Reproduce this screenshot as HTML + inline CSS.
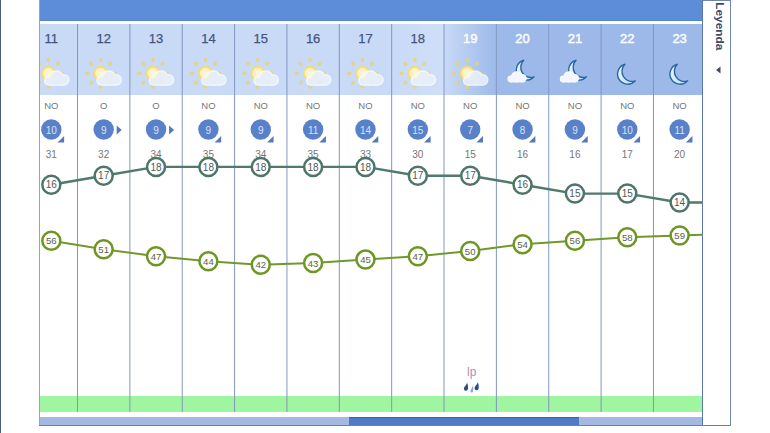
<!DOCTYPE html><html><head><meta charset="utf-8"><style>html,body{margin:0;padding:0;background:#fff;width:770px;height:433px;overflow:hidden}svg{display:block;font-family:"Liberation Sans", sans-serif}</style></head><body><svg width="770" height="433" viewBox="0 0 770 433"><defs><linearGradient id="g19" x1="0" x2="1" y1="0" y2="0"><stop offset="0" stop-color="#c8d9f6"/><stop offset="1" stop-color="#9dbaea"/></linearGradient><linearGradient id="g18" x1="0" x2="1" y1="0" y2="0"><stop offset="0" stop-color="#c9daf7"/><stop offset="1" stop-color="#d0dff8"/></linearGradient><radialGradient id="sunb" cx="0.5" cy="0.5" r="0.5"><stop offset="0" stop-color="#fdf8e0"/><stop offset="0.65" stop-color="#fbf0bc"/><stop offset="1" stop-color="#f1dc72"/></radialGradient><linearGradient id="moonf" x1="0" x2="1" y1="0" y2="1"><stop offset="0" stop-color="#f0fbff"/><stop offset="1" stop-color="#b4def8"/></linearGradient><filter id="soft" x="-20%" y="-20%" width="140%" height="140%"><feGaussianBlur stdDeviation="0.45"/></filter><clipPath id="chart"><rect x="40" y="0" width="662" height="433"/></clipPath></defs><rect x="0" y="0" width="1" height="433" fill="#4b5b7c"/><rect x="39" y="0" width="664" height="21" fill="#5d8cd9"/><rect x="39" y="20" width="664" height="1" fill="#5784cf"/><rect x="40" y="24" width="351.66" height="71" fill="#c9daf7"/><rect x="391.66" y="24" width="52.36" height="71" fill="url(#g18)"/><rect x="444.02" y="24" width="52.36" height="71" fill="url(#g19)"/><rect x="496.38" y="24" width="205.62" height="71" fill="#9db9ea"/><rect x="40" y="396" width="662" height="16" fill="#a0f5a0"/><rect x="40" y="417" width="662" height="8" fill="#a3b9e1"/><rect x="349" y="417" width="230" height="8" fill="#4f7bc6"/><rect x="349" y="417" width="230" height="1" fill="#3e64a8"/><rect x="77.00" y="24" width="1" height="388" fill="#8197c0"/><rect x="129.36" y="24" width="1" height="388" fill="#8197c0"/><rect x="181.72" y="24" width="1" height="388" fill="#8197c0"/><rect x="234.08" y="24" width="1" height="388" fill="#8197c0"/><rect x="286.44" y="24" width="1" height="388" fill="#8197c0"/><rect x="338.80" y="24" width="1" height="388" fill="#8197c0"/><rect x="391.16" y="24" width="1" height="388" fill="#8197c0"/><rect x="443.52" y="24" width="1" height="388" fill="#8197c0"/><rect x="495.88" y="24" width="1" height="388" fill="#8197c0"/><rect x="548.24" y="24" width="1" height="388" fill="#8197c0"/><rect x="600.60" y="24" width="1" height="388" fill="#8197c0"/><rect x="652.96" y="24" width="1" height="388" fill="#8197c0"/><rect x="39" y="0" width="1" height="426" fill="#8ea4c9"/><rect x="702" y="0" width="1" height="426" fill="#5a76a6"/><rect x="39" y="425" width="692" height="1" fill="#6a7fa5"/><rect x="730" y="0" width="1" height="426" fill="#6f86b0"/><rect x="703" y="0" width="27" height="1" fill="#6f86b0"/><text x="0" y="0" transform="translate(715.5,2.3) rotate(90)" font-family="Liberation Sans, sans-serif" font-weight="bold" font-size="11" fill="#3b4b6d" textLength="48" lengthAdjust="spacingAndGlyphs">Leyenda</text><path d="M716 70 L720.5 66.5 L720.5 73.5 Z" fill="#3b4b6d"/><g clip-path="url(#chart)"><text x="51.32" y="43" text-anchor="middle" font-family="Liberation Sans, sans-serif" font-size="13" fill="#43567a" stroke="#43567a" stroke-width="0.25">11</text><g filter="url(#soft)"><ellipse cx="48.32" cy="59.90" rx="1.9" ry="2.3" transform="rotate(0 48.32 59.90)" fill="#e8d36a" opacity="0.7"/><ellipse cx="57.80" cy="63.82" rx="1.9" ry="2.3" transform="rotate(45 57.80 63.82)" fill="#e8d36a" opacity="0.7"/><ellipse cx="61.72" cy="73.30" rx="1.9" ry="2.3" transform="rotate(90 61.72 73.30)" fill="#e8d36a" opacity="0.7"/><ellipse cx="57.80" cy="82.78" rx="1.9" ry="2.3" transform="rotate(135 57.80 82.78)" fill="#e8d36a" opacity="0.7"/><ellipse cx="48.32" cy="86.70" rx="1.9" ry="2.3" transform="rotate(180 48.32 86.70)" fill="#e8d36a" opacity="0.7"/><ellipse cx="38.84" cy="82.78" rx="1.9" ry="2.3" transform="rotate(225 38.84 82.78)" fill="#e8d36a" opacity="0.7"/><ellipse cx="34.92" cy="73.30" rx="1.9" ry="2.3" transform="rotate(270 34.92 73.30)" fill="#e8d36a" opacity="0.7"/><ellipse cx="38.84" cy="63.82" rx="1.9" ry="2.3" transform="rotate(315 38.84 63.82)" fill="#e8d36a" opacity="0.7"/><circle cx="48.32" cy="73.3" r="7.2" fill="url(#sunb)"/><circle cx="48.32" cy="73.3" r="6.5" fill="none" stroke="#f2dc78" stroke-width="1.4" opacity="0.9"/><g opacity="0.85"><circle cx="48.92" cy="80.80" r="4.90" fill="#fbfdff"/><circle cx="56.32" cy="78.00" r="7.70" fill="#fbfdff"/><circle cx="63.72" cy="79.80" r="5.90" fill="#fbfdff"/><rect x="48.92" y="78.90" width="14.80" height="6.80" fill="#fbfdff"/><circle cx="48.92" cy="80.80" r="3.60" fill="#eaf1fb"/><circle cx="56.32" cy="78.00" r="6.40" fill="#eaf1fb"/><circle cx="63.72" cy="79.80" r="4.60" fill="#eaf1fb"/><rect x="48.92" y="78.90" width="14.80" height="5.50" fill="#eaf1fb"/></g></g><text x="51.32" y="108.8" text-anchor="middle" font-family="Liberation Sans, sans-serif" font-size="9.5" fill="#767676">NO</text><circle cx="51.32" cy="129.5" r="10.2" fill="#5881ca"/><text x="51.32" y="133.6" text-anchor="middle" font-family="Liberation Sans, sans-serif" font-size="10" fill="#d8e1f2">10</text><path d="M64.12 136 L64.12 142.4 L57.52 142.4 Z" fill="#5479bf"/><text x="51.32" y="158" text-anchor="middle" font-family="Liberation Sans, sans-serif" font-size="10" fill="#767676">31</text><text x="103.68" y="43" text-anchor="middle" font-family="Liberation Sans, sans-serif" font-size="13" fill="#43567a" stroke="#43567a" stroke-width="0.25">12</text><g filter="url(#soft)"><ellipse cx="100.68" cy="59.90" rx="1.9" ry="2.3" transform="rotate(0 100.68 59.90)" fill="#e8d36a" opacity="0.7"/><ellipse cx="110.16" cy="63.82" rx="1.9" ry="2.3" transform="rotate(45 110.16 63.82)" fill="#e8d36a" opacity="0.7"/><ellipse cx="114.08" cy="73.30" rx="1.9" ry="2.3" transform="rotate(90 114.08 73.30)" fill="#e8d36a" opacity="0.7"/><ellipse cx="110.16" cy="82.78" rx="1.9" ry="2.3" transform="rotate(135 110.16 82.78)" fill="#e8d36a" opacity="0.7"/><ellipse cx="100.68" cy="86.70" rx="1.9" ry="2.3" transform="rotate(180 100.68 86.70)" fill="#e8d36a" opacity="0.7"/><ellipse cx="91.20" cy="82.78" rx="1.9" ry="2.3" transform="rotate(225 91.20 82.78)" fill="#e8d36a" opacity="0.7"/><ellipse cx="87.28" cy="73.30" rx="1.9" ry="2.3" transform="rotate(270 87.28 73.30)" fill="#e8d36a" opacity="0.7"/><ellipse cx="91.20" cy="63.82" rx="1.9" ry="2.3" transform="rotate(315 91.20 63.82)" fill="#e8d36a" opacity="0.7"/><circle cx="100.68" cy="73.3" r="7.2" fill="url(#sunb)"/><circle cx="100.68" cy="73.3" r="6.5" fill="none" stroke="#f2dc78" stroke-width="1.4" opacity="0.9"/><g opacity="0.85"><circle cx="101.28" cy="80.80" r="4.90" fill="#fbfdff"/><circle cx="108.68" cy="78.00" r="7.70" fill="#fbfdff"/><circle cx="116.08" cy="79.80" r="5.90" fill="#fbfdff"/><rect x="101.28" y="78.90" width="14.80" height="6.80" fill="#fbfdff"/><circle cx="101.28" cy="80.80" r="3.60" fill="#eaf1fb"/><circle cx="108.68" cy="78.00" r="6.40" fill="#eaf1fb"/><circle cx="116.08" cy="79.80" r="4.60" fill="#eaf1fb"/><rect x="101.28" y="78.90" width="14.80" height="5.50" fill="#eaf1fb"/></g></g><text x="103.68" y="108.8" text-anchor="middle" font-family="Liberation Sans, sans-serif" font-size="9.5" fill="#767676">O</text><circle cx="103.68" cy="129.5" r="10.2" fill="#5881ca"/><text x="103.68" y="133.6" text-anchor="middle" font-family="Liberation Sans, sans-serif" font-size="10" fill="#d8e1f2">9</text><path d="M116.68 125.5 L121.68 130 L116.68 134.5 Z" fill="#5479bf"/><text x="103.68" y="158" text-anchor="middle" font-family="Liberation Sans, sans-serif" font-size="10" fill="#767676">32</text><text x="156.04" y="43" text-anchor="middle" font-family="Liberation Sans, sans-serif" font-size="13" fill="#43567a" stroke="#43567a" stroke-width="0.25">13</text><g filter="url(#soft)"><ellipse cx="153.04" cy="59.90" rx="1.9" ry="2.3" transform="rotate(0 153.04 59.90)" fill="#e8d36a" opacity="0.7"/><ellipse cx="162.52" cy="63.82" rx="1.9" ry="2.3" transform="rotate(45 162.52 63.82)" fill="#e8d36a" opacity="0.7"/><ellipse cx="166.44" cy="73.30" rx="1.9" ry="2.3" transform="rotate(90 166.44 73.30)" fill="#e8d36a" opacity="0.7"/><ellipse cx="162.52" cy="82.78" rx="1.9" ry="2.3" transform="rotate(135 162.52 82.78)" fill="#e8d36a" opacity="0.7"/><ellipse cx="153.04" cy="86.70" rx="1.9" ry="2.3" transform="rotate(180 153.04 86.70)" fill="#e8d36a" opacity="0.7"/><ellipse cx="143.56" cy="82.78" rx="1.9" ry="2.3" transform="rotate(225 143.56 82.78)" fill="#e8d36a" opacity="0.7"/><ellipse cx="139.64" cy="73.30" rx="1.9" ry="2.3" transform="rotate(270 139.64 73.30)" fill="#e8d36a" opacity="0.7"/><ellipse cx="143.56" cy="63.82" rx="1.9" ry="2.3" transform="rotate(315 143.56 63.82)" fill="#e8d36a" opacity="0.7"/><circle cx="153.04" cy="73.3" r="7.2" fill="url(#sunb)"/><circle cx="153.04" cy="73.3" r="6.5" fill="none" stroke="#f2dc78" stroke-width="1.4" opacity="0.9"/><g opacity="0.85"><circle cx="153.64" cy="80.80" r="4.90" fill="#fbfdff"/><circle cx="161.04" cy="78.00" r="7.70" fill="#fbfdff"/><circle cx="168.44" cy="79.80" r="5.90" fill="#fbfdff"/><rect x="153.64" y="78.90" width="14.80" height="6.80" fill="#fbfdff"/><circle cx="153.64" cy="80.80" r="3.60" fill="#eaf1fb"/><circle cx="161.04" cy="78.00" r="6.40" fill="#eaf1fb"/><circle cx="168.44" cy="79.80" r="4.60" fill="#eaf1fb"/><rect x="153.64" y="78.90" width="14.80" height="5.50" fill="#eaf1fb"/></g></g><text x="156.04" y="108.8" text-anchor="middle" font-family="Liberation Sans, sans-serif" font-size="9.5" fill="#767676">O</text><circle cx="156.04" cy="129.5" r="10.2" fill="#5881ca"/><text x="156.04" y="133.6" text-anchor="middle" font-family="Liberation Sans, sans-serif" font-size="10" fill="#d8e1f2">9</text><path d="M169.04 125.5 L174.04 130 L169.04 134.5 Z" fill="#5479bf"/><text x="156.04" y="158" text-anchor="middle" font-family="Liberation Sans, sans-serif" font-size="10" fill="#767676">34</text><text x="208.40" y="43" text-anchor="middle" font-family="Liberation Sans, sans-serif" font-size="13" fill="#43567a" stroke="#43567a" stroke-width="0.25">14</text><g filter="url(#soft)"><ellipse cx="205.40" cy="59.90" rx="1.9" ry="2.3" transform="rotate(0 205.40 59.90)" fill="#e8d36a" opacity="0.7"/><ellipse cx="214.88" cy="63.82" rx="1.9" ry="2.3" transform="rotate(45 214.88 63.82)" fill="#e8d36a" opacity="0.7"/><ellipse cx="218.80" cy="73.30" rx="1.9" ry="2.3" transform="rotate(90 218.80 73.30)" fill="#e8d36a" opacity="0.7"/><ellipse cx="214.88" cy="82.78" rx="1.9" ry="2.3" transform="rotate(135 214.88 82.78)" fill="#e8d36a" opacity="0.7"/><ellipse cx="205.40" cy="86.70" rx="1.9" ry="2.3" transform="rotate(180 205.40 86.70)" fill="#e8d36a" opacity="0.7"/><ellipse cx="195.92" cy="82.78" rx="1.9" ry="2.3" transform="rotate(225 195.92 82.78)" fill="#e8d36a" opacity="0.7"/><ellipse cx="192.00" cy="73.30" rx="1.9" ry="2.3" transform="rotate(270 192.00 73.30)" fill="#e8d36a" opacity="0.7"/><ellipse cx="195.92" cy="63.82" rx="1.9" ry="2.3" transform="rotate(315 195.92 63.82)" fill="#e8d36a" opacity="0.7"/><circle cx="205.39999999999998" cy="73.3" r="7.2" fill="url(#sunb)"/><circle cx="205.39999999999998" cy="73.3" r="6.5" fill="none" stroke="#f2dc78" stroke-width="1.4" opacity="0.9"/><g opacity="0.85"><circle cx="206.00" cy="80.80" r="4.90" fill="#fbfdff"/><circle cx="213.40" cy="78.00" r="7.70" fill="#fbfdff"/><circle cx="220.80" cy="79.80" r="5.90" fill="#fbfdff"/><rect x="206.00" y="78.90" width="14.80" height="6.80" fill="#fbfdff"/><circle cx="206.00" cy="80.80" r="3.60" fill="#eaf1fb"/><circle cx="213.40" cy="78.00" r="6.40" fill="#eaf1fb"/><circle cx="220.80" cy="79.80" r="4.60" fill="#eaf1fb"/><rect x="206.00" y="78.90" width="14.80" height="5.50" fill="#eaf1fb"/></g></g><text x="208.40" y="108.8" text-anchor="middle" font-family="Liberation Sans, sans-serif" font-size="9.5" fill="#767676">NO</text><circle cx="208.40" cy="129.5" r="10.2" fill="#5881ca"/><text x="208.40" y="133.6" text-anchor="middle" font-family="Liberation Sans, sans-serif" font-size="10" fill="#d8e1f2">9</text><path d="M221.20 136 L221.20 142.4 L214.60 142.4 Z" fill="#5479bf"/><text x="208.40" y="158" text-anchor="middle" font-family="Liberation Sans, sans-serif" font-size="10" fill="#767676">35</text><text x="260.76" y="43" text-anchor="middle" font-family="Liberation Sans, sans-serif" font-size="13" fill="#43567a" stroke="#43567a" stroke-width="0.25">15</text><g filter="url(#soft)"><ellipse cx="257.76" cy="59.90" rx="1.9" ry="2.3" transform="rotate(0 257.76 59.90)" fill="#e8d36a" opacity="0.7"/><ellipse cx="267.24" cy="63.82" rx="1.9" ry="2.3" transform="rotate(45 267.24 63.82)" fill="#e8d36a" opacity="0.7"/><ellipse cx="271.16" cy="73.30" rx="1.9" ry="2.3" transform="rotate(90 271.16 73.30)" fill="#e8d36a" opacity="0.7"/><ellipse cx="267.24" cy="82.78" rx="1.9" ry="2.3" transform="rotate(135 267.24 82.78)" fill="#e8d36a" opacity="0.7"/><ellipse cx="257.76" cy="86.70" rx="1.9" ry="2.3" transform="rotate(180 257.76 86.70)" fill="#e8d36a" opacity="0.7"/><ellipse cx="248.28" cy="82.78" rx="1.9" ry="2.3" transform="rotate(225 248.28 82.78)" fill="#e8d36a" opacity="0.7"/><ellipse cx="244.36" cy="73.30" rx="1.9" ry="2.3" transform="rotate(270 244.36 73.30)" fill="#e8d36a" opacity="0.7"/><ellipse cx="248.28" cy="63.82" rx="1.9" ry="2.3" transform="rotate(315 248.28 63.82)" fill="#e8d36a" opacity="0.7"/><circle cx="257.76" cy="73.3" r="7.2" fill="url(#sunb)"/><circle cx="257.76" cy="73.3" r="6.5" fill="none" stroke="#f2dc78" stroke-width="1.4" opacity="0.9"/><g opacity="0.85"><circle cx="258.36" cy="80.80" r="4.90" fill="#fbfdff"/><circle cx="265.76" cy="78.00" r="7.70" fill="#fbfdff"/><circle cx="273.16" cy="79.80" r="5.90" fill="#fbfdff"/><rect x="258.36" y="78.90" width="14.80" height="6.80" fill="#fbfdff"/><circle cx="258.36" cy="80.80" r="3.60" fill="#eaf1fb"/><circle cx="265.76" cy="78.00" r="6.40" fill="#eaf1fb"/><circle cx="273.16" cy="79.80" r="4.60" fill="#eaf1fb"/><rect x="258.36" y="78.90" width="14.80" height="5.50" fill="#eaf1fb"/></g></g><text x="260.76" y="108.8" text-anchor="middle" font-family="Liberation Sans, sans-serif" font-size="9.5" fill="#767676">NO</text><circle cx="260.76" cy="129.5" r="10.2" fill="#5881ca"/><text x="260.76" y="133.6" text-anchor="middle" font-family="Liberation Sans, sans-serif" font-size="10" fill="#d8e1f2">9</text><path d="M273.56 136 L273.56 142.4 L266.96 142.4 Z" fill="#5479bf"/><text x="260.76" y="158" text-anchor="middle" font-family="Liberation Sans, sans-serif" font-size="10" fill="#767676">34</text><text x="313.12" y="43" text-anchor="middle" font-family="Liberation Sans, sans-serif" font-size="13" fill="#43567a" stroke="#43567a" stroke-width="0.25">16</text><g filter="url(#soft)"><ellipse cx="310.12" cy="59.90" rx="1.9" ry="2.3" transform="rotate(0 310.12 59.90)" fill="#e8d36a" opacity="0.7"/><ellipse cx="319.60" cy="63.82" rx="1.9" ry="2.3" transform="rotate(45 319.60 63.82)" fill="#e8d36a" opacity="0.7"/><ellipse cx="323.52" cy="73.30" rx="1.9" ry="2.3" transform="rotate(90 323.52 73.30)" fill="#e8d36a" opacity="0.7"/><ellipse cx="319.60" cy="82.78" rx="1.9" ry="2.3" transform="rotate(135 319.60 82.78)" fill="#e8d36a" opacity="0.7"/><ellipse cx="310.12" cy="86.70" rx="1.9" ry="2.3" transform="rotate(180 310.12 86.70)" fill="#e8d36a" opacity="0.7"/><ellipse cx="300.64" cy="82.78" rx="1.9" ry="2.3" transform="rotate(225 300.64 82.78)" fill="#e8d36a" opacity="0.7"/><ellipse cx="296.72" cy="73.30" rx="1.9" ry="2.3" transform="rotate(270 296.72 73.30)" fill="#e8d36a" opacity="0.7"/><ellipse cx="300.64" cy="63.82" rx="1.9" ry="2.3" transform="rotate(315 300.64 63.82)" fill="#e8d36a" opacity="0.7"/><circle cx="310.12" cy="73.3" r="7.2" fill="url(#sunb)"/><circle cx="310.12" cy="73.3" r="6.5" fill="none" stroke="#f2dc78" stroke-width="1.4" opacity="0.9"/><g opacity="0.85"><circle cx="310.72" cy="80.80" r="4.90" fill="#fbfdff"/><circle cx="318.12" cy="78.00" r="7.70" fill="#fbfdff"/><circle cx="325.52" cy="79.80" r="5.90" fill="#fbfdff"/><rect x="310.72" y="78.90" width="14.80" height="6.80" fill="#fbfdff"/><circle cx="310.72" cy="80.80" r="3.60" fill="#eaf1fb"/><circle cx="318.12" cy="78.00" r="6.40" fill="#eaf1fb"/><circle cx="325.52" cy="79.80" r="4.60" fill="#eaf1fb"/><rect x="310.72" y="78.90" width="14.80" height="5.50" fill="#eaf1fb"/></g></g><text x="313.12" y="108.8" text-anchor="middle" font-family="Liberation Sans, sans-serif" font-size="9.5" fill="#767676">NO</text><circle cx="313.12" cy="129.5" r="10.2" fill="#5881ca"/><text x="313.12" y="133.6" text-anchor="middle" font-family="Liberation Sans, sans-serif" font-size="10" fill="#d8e1f2">11</text><path d="M325.92 136 L325.92 142.4 L319.32 142.4 Z" fill="#5479bf"/><text x="313.12" y="158" text-anchor="middle" font-family="Liberation Sans, sans-serif" font-size="10" fill="#767676">35</text><text x="365.48" y="43" text-anchor="middle" font-family="Liberation Sans, sans-serif" font-size="13" fill="#43567a" stroke="#43567a" stroke-width="0.25">17</text><g filter="url(#soft)"><ellipse cx="362.48" cy="59.90" rx="1.9" ry="2.3" transform="rotate(0 362.48 59.90)" fill="#e8d36a" opacity="0.7"/><ellipse cx="371.96" cy="63.82" rx="1.9" ry="2.3" transform="rotate(45 371.96 63.82)" fill="#e8d36a" opacity="0.7"/><ellipse cx="375.88" cy="73.30" rx="1.9" ry="2.3" transform="rotate(90 375.88 73.30)" fill="#e8d36a" opacity="0.7"/><ellipse cx="371.96" cy="82.78" rx="1.9" ry="2.3" transform="rotate(135 371.96 82.78)" fill="#e8d36a" opacity="0.7"/><ellipse cx="362.48" cy="86.70" rx="1.9" ry="2.3" transform="rotate(180 362.48 86.70)" fill="#e8d36a" opacity="0.7"/><ellipse cx="353.00" cy="82.78" rx="1.9" ry="2.3" transform="rotate(225 353.00 82.78)" fill="#e8d36a" opacity="0.7"/><ellipse cx="349.08" cy="73.30" rx="1.9" ry="2.3" transform="rotate(270 349.08 73.30)" fill="#e8d36a" opacity="0.7"/><ellipse cx="353.00" cy="63.82" rx="1.9" ry="2.3" transform="rotate(315 353.00 63.82)" fill="#e8d36a" opacity="0.7"/><circle cx="362.47999999999996" cy="73.3" r="7.2" fill="url(#sunb)"/><circle cx="362.47999999999996" cy="73.3" r="6.5" fill="none" stroke="#f2dc78" stroke-width="1.4" opacity="0.9"/><g opacity="0.85"><circle cx="363.08" cy="80.80" r="4.90" fill="#fbfdff"/><circle cx="370.48" cy="78.00" r="7.70" fill="#fbfdff"/><circle cx="377.88" cy="79.80" r="5.90" fill="#fbfdff"/><rect x="363.08" y="78.90" width="14.80" height="6.80" fill="#fbfdff"/><circle cx="363.08" cy="80.80" r="3.60" fill="#eaf1fb"/><circle cx="370.48" cy="78.00" r="6.40" fill="#eaf1fb"/><circle cx="377.88" cy="79.80" r="4.60" fill="#eaf1fb"/><rect x="363.08" y="78.90" width="14.80" height="5.50" fill="#eaf1fb"/></g></g><text x="365.48" y="108.8" text-anchor="middle" font-family="Liberation Sans, sans-serif" font-size="9.5" fill="#767676">NO</text><circle cx="365.48" cy="129.5" r="10.2" fill="#5881ca"/><text x="365.48" y="133.6" text-anchor="middle" font-family="Liberation Sans, sans-serif" font-size="10" fill="#d8e1f2">14</text><path d="M378.28 136 L378.28 142.4 L371.68 142.4 Z" fill="#5479bf"/><text x="365.48" y="158" text-anchor="middle" font-family="Liberation Sans, sans-serif" font-size="10" fill="#767676">33</text><text x="417.84" y="43" text-anchor="middle" font-family="Liberation Sans, sans-serif" font-size="13" fill="#43567a" stroke="#43567a" stroke-width="0.25">18</text><g filter="url(#soft)"><ellipse cx="414.84" cy="59.90" rx="1.9" ry="2.3" transform="rotate(0 414.84 59.90)" fill="#e8d36a" opacity="0.7"/><ellipse cx="424.32" cy="63.82" rx="1.9" ry="2.3" transform="rotate(45 424.32 63.82)" fill="#e8d36a" opacity="0.7"/><ellipse cx="428.24" cy="73.30" rx="1.9" ry="2.3" transform="rotate(90 428.24 73.30)" fill="#e8d36a" opacity="0.7"/><ellipse cx="424.32" cy="82.78" rx="1.9" ry="2.3" transform="rotate(135 424.32 82.78)" fill="#e8d36a" opacity="0.7"/><ellipse cx="414.84" cy="86.70" rx="1.9" ry="2.3" transform="rotate(180 414.84 86.70)" fill="#e8d36a" opacity="0.7"/><ellipse cx="405.36" cy="82.78" rx="1.9" ry="2.3" transform="rotate(225 405.36 82.78)" fill="#e8d36a" opacity="0.7"/><ellipse cx="401.44" cy="73.30" rx="1.9" ry="2.3" transform="rotate(270 401.44 73.30)" fill="#e8d36a" opacity="0.7"/><ellipse cx="405.36" cy="63.82" rx="1.9" ry="2.3" transform="rotate(315 405.36 63.82)" fill="#e8d36a" opacity="0.7"/><circle cx="414.84" cy="73.3" r="7.2" fill="url(#sunb)"/><circle cx="414.84" cy="73.3" r="6.5" fill="none" stroke="#f2dc78" stroke-width="1.4" opacity="0.9"/><g opacity="0.85"><circle cx="415.44" cy="80.80" r="4.90" fill="#fbfdff"/><circle cx="422.84" cy="78.00" r="7.70" fill="#fbfdff"/><circle cx="430.24" cy="79.80" r="5.90" fill="#fbfdff"/><rect x="415.44" y="78.90" width="14.80" height="6.80" fill="#fbfdff"/><circle cx="415.44" cy="80.80" r="3.60" fill="#eaf1fb"/><circle cx="422.84" cy="78.00" r="6.40" fill="#eaf1fb"/><circle cx="430.24" cy="79.80" r="4.60" fill="#eaf1fb"/><rect x="415.44" y="78.90" width="14.80" height="5.50" fill="#eaf1fb"/></g></g><text x="417.84" y="108.8" text-anchor="middle" font-family="Liberation Sans, sans-serif" font-size="9.5" fill="#767676">NO</text><circle cx="417.84" cy="129.5" r="10.2" fill="#5881ca"/><text x="417.84" y="133.6" text-anchor="middle" font-family="Liberation Sans, sans-serif" font-size="10" fill="#d8e1f2">15</text><path d="M430.64 136 L430.64 142.4 L424.04 142.4 Z" fill="#5479bf"/><text x="417.84" y="158" text-anchor="middle" font-family="Liberation Sans, sans-serif" font-size="10" fill="#767676">30</text><text x="470.20" y="43" text-anchor="middle" font-family="Liberation Sans, sans-serif" font-size="13" fill="#ffffff" stroke="#ffffff" stroke-width="0.4">19</text><g filter="url(#soft)"><ellipse cx="467.20" cy="59.90" rx="1.9" ry="2.3" transform="rotate(0 467.20 59.90)" fill="#e8d36a" opacity="0.7"/><ellipse cx="476.68" cy="63.82" rx="1.9" ry="2.3" transform="rotate(45 476.68 63.82)" fill="#e8d36a" opacity="0.7"/><ellipse cx="480.60" cy="73.30" rx="1.9" ry="2.3" transform="rotate(90 480.60 73.30)" fill="#e8d36a" opacity="0.7"/><ellipse cx="476.68" cy="82.78" rx="1.9" ry="2.3" transform="rotate(135 476.68 82.78)" fill="#e8d36a" opacity="0.7"/><ellipse cx="467.20" cy="86.70" rx="1.9" ry="2.3" transform="rotate(180 467.20 86.70)" fill="#e8d36a" opacity="0.7"/><ellipse cx="457.72" cy="82.78" rx="1.9" ry="2.3" transform="rotate(225 457.72 82.78)" fill="#e8d36a" opacity="0.7"/><ellipse cx="453.80" cy="73.30" rx="1.9" ry="2.3" transform="rotate(270 453.80 73.30)" fill="#e8d36a" opacity="0.7"/><ellipse cx="457.72" cy="63.82" rx="1.9" ry="2.3" transform="rotate(315 457.72 63.82)" fill="#e8d36a" opacity="0.7"/><circle cx="467.2" cy="73.3" r="7.2" fill="url(#sunb)"/><circle cx="467.2" cy="73.3" r="6.5" fill="none" stroke="#f2dc78" stroke-width="1.4" opacity="0.9"/><g opacity="0.85"><circle cx="467.80" cy="80.80" r="4.90" fill="#fbfdff"/><circle cx="475.20" cy="78.00" r="7.70" fill="#fbfdff"/><circle cx="482.60" cy="79.80" r="5.90" fill="#fbfdff"/><rect x="467.80" y="78.90" width="14.80" height="6.80" fill="#fbfdff"/><circle cx="467.80" cy="80.80" r="3.60" fill="#eaf1fb"/><circle cx="475.20" cy="78.00" r="6.40" fill="#eaf1fb"/><circle cx="482.60" cy="79.80" r="4.60" fill="#eaf1fb"/><rect x="467.80" y="78.90" width="14.80" height="5.50" fill="#eaf1fb"/></g></g><text x="470.20" y="108.8" text-anchor="middle" font-family="Liberation Sans, sans-serif" font-size="9.5" fill="#767676">NO</text><circle cx="470.20" cy="129.5" r="10.2" fill="#5881ca"/><text x="470.20" y="133.6" text-anchor="middle" font-family="Liberation Sans, sans-serif" font-size="10" fill="#d8e1f2">7</text><path d="M483.00 136 L483.00 142.4 L476.40 142.4 Z" fill="#5479bf"/><text x="470.20" y="158" text-anchor="middle" font-family="Liberation Sans, sans-serif" font-size="10" fill="#767676">15</text><text x="522.56" y="43" text-anchor="middle" font-family="Liberation Sans, sans-serif" font-size="13" fill="#ffffff" stroke="#ffffff" stroke-width="0.4">20</text><g filter="url(#soft)"><path d="M523.73 60.24 A10.15 10.15 0 1 0 534.05 76.79 A10 10 0 0 1 523.73 60.24 Z" fill="url(#moonf)" stroke="#2f66a3" stroke-width="1.4" stroke-linejoin="round"/></g><g filter="url(#soft)"><g opacity="1.0"><circle cx="510.87" cy="78.99" r="3.41" fill="#ffffff"/><circle cx="516.64" cy="76.81" r="5.59" fill="#ffffff"/><circle cx="522.41" cy="78.21" r="4.19" fill="#ffffff"/><rect x="510.87" y="77.51" width="11.54" height="4.89" fill="#ffffff"/><circle cx="510.87" cy="78.99" r="2.81" fill="#f4f8fe"/><circle cx="516.64" cy="76.81" r="4.99" fill="#f4f8fe"/><circle cx="522.41" cy="78.21" r="3.59" fill="#f4f8fe"/><rect x="510.87" y="77.51" width="11.54" height="4.29" fill="#f4f8fe"/></g></g><text x="522.56" y="108.8" text-anchor="middle" font-family="Liberation Sans, sans-serif" font-size="9.5" fill="#767676">NO</text><circle cx="522.56" cy="129.5" r="10.2" fill="#5881ca"/><text x="522.56" y="133.6" text-anchor="middle" font-family="Liberation Sans, sans-serif" font-size="10" fill="#d8e1f2">8</text><path d="M535.36 136 L535.36 142.4 L528.76 142.4 Z" fill="#5479bf"/><text x="522.56" y="158" text-anchor="middle" font-family="Liberation Sans, sans-serif" font-size="10" fill="#767676">16</text><text x="574.92" y="43" text-anchor="middle" font-family="Liberation Sans, sans-serif" font-size="13" fill="#ffffff" stroke="#ffffff" stroke-width="0.4">21</text><g filter="url(#soft)"><path d="M576.09 60.24 A10.15 10.15 0 1 0 586.41 76.79 A10 10 0 0 1 576.09 60.24 Z" fill="url(#moonf)" stroke="#2f66a3" stroke-width="1.4" stroke-linejoin="round"/></g><g filter="url(#soft)"><g opacity="1.0"><circle cx="563.23" cy="78.99" r="3.41" fill="#ffffff"/><circle cx="569.00" cy="76.81" r="5.59" fill="#ffffff"/><circle cx="574.77" cy="78.21" r="4.19" fill="#ffffff"/><rect x="563.23" y="77.51" width="11.54" height="4.89" fill="#ffffff"/><circle cx="563.23" cy="78.99" r="2.81" fill="#f4f8fe"/><circle cx="569.00" cy="76.81" r="4.99" fill="#f4f8fe"/><circle cx="574.77" cy="78.21" r="3.59" fill="#f4f8fe"/><rect x="563.23" y="77.51" width="11.54" height="4.29" fill="#f4f8fe"/></g></g><text x="574.92" y="108.8" text-anchor="middle" font-family="Liberation Sans, sans-serif" font-size="9.5" fill="#767676">NO</text><circle cx="574.92" cy="129.5" r="10.2" fill="#5881ca"/><text x="574.92" y="133.6" text-anchor="middle" font-family="Liberation Sans, sans-serif" font-size="10" fill="#d8e1f2">9</text><path d="M587.72 136 L587.72 142.4 L581.12 142.4 Z" fill="#5479bf"/><text x="574.92" y="158" text-anchor="middle" font-family="Liberation Sans, sans-serif" font-size="10" fill="#767676">16</text><text x="627.28" y="43" text-anchor="middle" font-family="Liberation Sans, sans-serif" font-size="13" fill="#ffffff" stroke="#ffffff" stroke-width="0.4">22</text><g filter="url(#soft)"><path d="M624.95 64.29 A10.15 10.15 0 1 0 635.27 80.84 A10 10 0 0 1 624.95 64.29 Z" fill="url(#moonf)" stroke="#2f66a3" stroke-width="1.4" stroke-linejoin="round"/></g><text x="627.28" y="108.8" text-anchor="middle" font-family="Liberation Sans, sans-serif" font-size="9.5" fill="#767676">NO</text><circle cx="627.28" cy="129.5" r="10.2" fill="#5881ca"/><text x="627.28" y="133.6" text-anchor="middle" font-family="Liberation Sans, sans-serif" font-size="10" fill="#d8e1f2">10</text><path d="M640.08 136 L640.08 142.4 L633.48 142.4 Z" fill="#5479bf"/><text x="627.28" y="158" text-anchor="middle" font-family="Liberation Sans, sans-serif" font-size="10" fill="#767676">17</text><text x="679.64" y="43" text-anchor="middle" font-family="Liberation Sans, sans-serif" font-size="13" fill="#ffffff" stroke="#ffffff" stroke-width="0.4">23</text><g filter="url(#soft)"><path d="M677.31 64.29 A10.15 10.15 0 1 0 687.63 80.84 A10 10 0 0 1 677.31 64.29 Z" fill="url(#moonf)" stroke="#2f66a3" stroke-width="1.4" stroke-linejoin="round"/></g><text x="679.64" y="108.8" text-anchor="middle" font-family="Liberation Sans, sans-serif" font-size="9.5" fill="#767676">NO</text><circle cx="679.64" cy="129.5" r="10.2" fill="#5881ca"/><text x="679.64" y="133.6" text-anchor="middle" font-family="Liberation Sans, sans-serif" font-size="10" fill="#d8e1f2">11</text><path d="M692.44 136 L692.44 142.4 L685.84 142.4 Z" fill="#5479bf"/><text x="679.64" y="158" text-anchor="middle" font-family="Liberation Sans, sans-serif" font-size="10" fill="#767676">20</text><polyline points="51.32,184.70 103.68,175.80 156.04,166.90 208.40,166.90 260.76,166.90 313.12,166.90 365.48,166.90 417.84,175.80 470.20,175.80 522.56,184.70 574.92,193.60 627.28,193.60 679.64,202.50 732.00,202.50" fill="none" stroke="#4f7a6d" stroke-width="2.4" stroke-linejoin="round"/><polyline points="51.32,240.71 103.68,249.30 156.04,256.17 208.40,261.33 260.76,264.76 313.12,263.04 365.48,259.61 417.84,256.17 470.20,251.02 522.56,244.15 574.92,240.71 627.28,237.28 679.64,235.56 732.00,233.84" fill="none" stroke="#71992a" stroke-width="2" stroke-linejoin="round"/><circle cx="51.32" cy="184.70" r="9.0" fill="#ffffff" stroke="#4d7569" stroke-width="2.5"/><text x="51.32" y="188.30" text-anchor="middle" font-family="Liberation Sans, sans-serif" font-size="10" fill="#505a56">16</text><circle cx="51.32" cy="240.71" r="9.0" fill="#ffffff" stroke="#6e9622" stroke-width="2.5"/><text x="51.32" y="244.31" text-anchor="middle" font-family="Liberation Sans, sans-serif" font-size="9.6" fill="#595f4c">56</text><circle cx="103.68" cy="175.80" r="9.0" fill="#ffffff" stroke="#4d7569" stroke-width="2.5"/><text x="103.68" y="179.40" text-anchor="middle" font-family="Liberation Sans, sans-serif" font-size="10" fill="#505a56">17</text><circle cx="103.68" cy="249.30" r="9.0" fill="#ffffff" stroke="#6e9622" stroke-width="2.5"/><text x="103.68" y="252.90" text-anchor="middle" font-family="Liberation Sans, sans-serif" font-size="9.6" fill="#595f4c">51</text><circle cx="156.04" cy="166.90" r="9.0" fill="#ffffff" stroke="#4d7569" stroke-width="2.5"/><text x="156.04" y="170.50" text-anchor="middle" font-family="Liberation Sans, sans-serif" font-size="10" fill="#505a56">18</text><circle cx="156.04" cy="256.17" r="9.0" fill="#ffffff" stroke="#6e9622" stroke-width="2.5"/><text x="156.04" y="259.77" text-anchor="middle" font-family="Liberation Sans, sans-serif" font-size="9.6" fill="#595f4c">47</text><circle cx="208.40" cy="166.90" r="9.0" fill="#ffffff" stroke="#4d7569" stroke-width="2.5"/><text x="208.40" y="170.50" text-anchor="middle" font-family="Liberation Sans, sans-serif" font-size="10" fill="#505a56">18</text><circle cx="208.40" cy="261.33" r="9.0" fill="#ffffff" stroke="#6e9622" stroke-width="2.5"/><text x="208.40" y="264.93" text-anchor="middle" font-family="Liberation Sans, sans-serif" font-size="9.6" fill="#595f4c">44</text><circle cx="260.76" cy="166.90" r="9.0" fill="#ffffff" stroke="#4d7569" stroke-width="2.5"/><text x="260.76" y="170.50" text-anchor="middle" font-family="Liberation Sans, sans-serif" font-size="10" fill="#505a56">18</text><circle cx="260.76" cy="264.76" r="9.0" fill="#ffffff" stroke="#6e9622" stroke-width="2.5"/><text x="260.76" y="268.36" text-anchor="middle" font-family="Liberation Sans, sans-serif" font-size="9.6" fill="#595f4c">42</text><circle cx="313.12" cy="166.90" r="9.0" fill="#ffffff" stroke="#4d7569" stroke-width="2.5"/><text x="313.12" y="170.50" text-anchor="middle" font-family="Liberation Sans, sans-serif" font-size="10" fill="#505a56">18</text><circle cx="313.12" cy="263.04" r="9.0" fill="#ffffff" stroke="#6e9622" stroke-width="2.5"/><text x="313.12" y="266.64" text-anchor="middle" font-family="Liberation Sans, sans-serif" font-size="9.6" fill="#595f4c">43</text><circle cx="365.48" cy="166.90" r="9.0" fill="#ffffff" stroke="#4d7569" stroke-width="2.5"/><text x="365.48" y="170.50" text-anchor="middle" font-family="Liberation Sans, sans-serif" font-size="10" fill="#505a56">18</text><circle cx="365.48" cy="259.61" r="9.0" fill="#ffffff" stroke="#6e9622" stroke-width="2.5"/><text x="365.48" y="263.21" text-anchor="middle" font-family="Liberation Sans, sans-serif" font-size="9.6" fill="#595f4c">45</text><circle cx="417.84" cy="175.80" r="9.0" fill="#ffffff" stroke="#4d7569" stroke-width="2.5"/><text x="417.84" y="179.40" text-anchor="middle" font-family="Liberation Sans, sans-serif" font-size="10" fill="#505a56">17</text><circle cx="417.84" cy="256.17" r="9.0" fill="#ffffff" stroke="#6e9622" stroke-width="2.5"/><text x="417.84" y="259.77" text-anchor="middle" font-family="Liberation Sans, sans-serif" font-size="9.6" fill="#595f4c">47</text><circle cx="470.20" cy="175.80" r="9.0" fill="#ffffff" stroke="#4d7569" stroke-width="2.5"/><text x="470.20" y="179.40" text-anchor="middle" font-family="Liberation Sans, sans-serif" font-size="10" fill="#505a56">17</text><circle cx="470.20" cy="251.02" r="9.0" fill="#ffffff" stroke="#6e9622" stroke-width="2.5"/><text x="470.20" y="254.62" text-anchor="middle" font-family="Liberation Sans, sans-serif" font-size="9.6" fill="#595f4c">50</text><circle cx="522.56" cy="184.70" r="9.0" fill="#ffffff" stroke="#4d7569" stroke-width="2.5"/><text x="522.56" y="188.30" text-anchor="middle" font-family="Liberation Sans, sans-serif" font-size="10" fill="#505a56">16</text><circle cx="522.56" cy="244.15" r="9.0" fill="#ffffff" stroke="#6e9622" stroke-width="2.5"/><text x="522.56" y="247.75" text-anchor="middle" font-family="Liberation Sans, sans-serif" font-size="9.6" fill="#595f4c">54</text><circle cx="574.92" cy="193.60" r="9.0" fill="#ffffff" stroke="#4d7569" stroke-width="2.5"/><text x="574.92" y="197.20" text-anchor="middle" font-family="Liberation Sans, sans-serif" font-size="10" fill="#505a56">15</text><circle cx="574.92" cy="240.71" r="9.0" fill="#ffffff" stroke="#6e9622" stroke-width="2.5"/><text x="574.92" y="244.31" text-anchor="middle" font-family="Liberation Sans, sans-serif" font-size="9.6" fill="#595f4c">56</text><circle cx="627.28" cy="193.60" r="9.0" fill="#ffffff" stroke="#4d7569" stroke-width="2.5"/><text x="627.28" y="197.20" text-anchor="middle" font-family="Liberation Sans, sans-serif" font-size="10" fill="#505a56">15</text><circle cx="627.28" cy="237.28" r="9.0" fill="#ffffff" stroke="#6e9622" stroke-width="2.5"/><text x="627.28" y="240.88" text-anchor="middle" font-family="Liberation Sans, sans-serif" font-size="9.6" fill="#595f4c">58</text><circle cx="679.64" cy="202.50" r="9.0" fill="#ffffff" stroke="#4d7569" stroke-width="2.5"/><text x="679.64" y="206.10" text-anchor="middle" font-family="Liberation Sans, sans-serif" font-size="10" fill="#505a56">14</text><circle cx="679.64" cy="235.56" r="9.0" fill="#ffffff" stroke="#6e9622" stroke-width="2.5"/><text x="679.64" y="239.16" text-anchor="middle" font-family="Liberation Sans, sans-serif" font-size="9.6" fill="#595f4c">59</text><text x="471.70" y="376" text-anchor="middle" font-family="Liberation Sans, sans-serif" font-size="12" fill="#b38cb3">lp</text><g filter="url(#soft)"><path d="M467.10 382.80 C468.36 385.60 468.00 387.44 468.00 388.70 A2.10 2.10 0 0 1 463.80 388.70 C463.80 386.81 466.47 385.20 467.10 382.80 Z" fill="#2f4d86"/><path d="M477.80 382.30 C479.06 385.10 478.70 386.94 478.70 388.20 A2.10 2.10 0 0 1 474.50 388.20 C474.50 386.31 477.17 384.70 477.80 382.30 Z" fill="#2f4d86"/><path d="M472.90 385.50 C473.68 387.95 473.00 390.42 473.00 391.20 A1.30 1.30 0 0 1 470.40 391.20 C470.40 390.03 472.51 387.60 472.90 385.50 Z" fill="#86a8dc"/></g></g></svg></body></html>
